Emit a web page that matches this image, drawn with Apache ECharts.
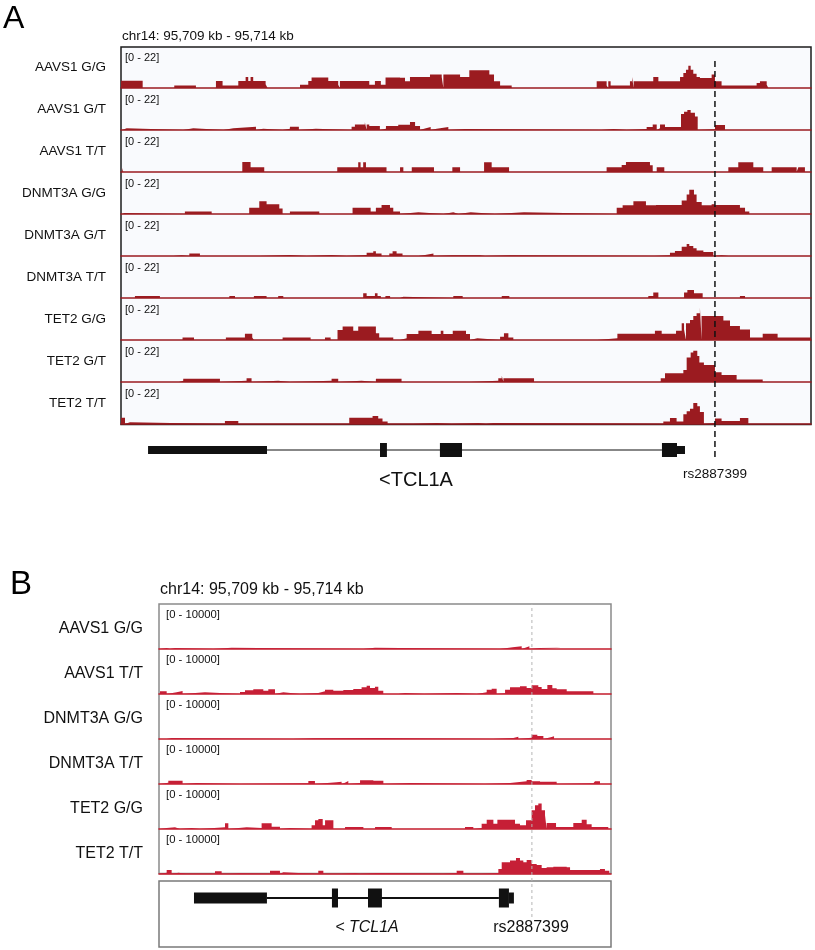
<!DOCTYPE html>
<html>
<head>
<meta charset="utf-8">
<script src="https://cdn.jsdelivr.net/npm/echarts@6/dist/echarts.min.js"></script>
<style>
  html, body { margin: 0; padding: 0; background: #fff; }
  #chart { width: 815px; height: 950px; }
</style>
</head>
<body>
<div id="chart"></div>
<script>
// region / labels
const regionText = 'chr14: 95,709 kb - 95,714 kb';
const regionLen = 5000; // bp shown across each panel
const trackNamesA = ['AAVS1 G/G', 'AAVS1 G/T', 'AAVS1 T/T', 'DNMT3A G/G', 'DNMT3A G/T', 'DNMT3A T/T', 'TET2 G/G', 'TET2 G/T', 'TET2 T/T'];
const trackNamesB = ['AAVS1 G/G', 'AAVS1 T/T', 'DNMT3A G/G', 'DNMT3A T/T', 'TET2 G/G', 'TET2 T/T'];
const rangeA = [0, 22];
const rangeB = [0, 10000];

// coverage segments: [start bp, end bp, value]  (panel A, scale 0-22)
const aAavs1GG = [[0,157,3.9],[386,543,1.3],[688,736,3.8],[736,850,1.3],[850,903,3.8],[903,922,5.9],[922,939,3.8],[939,958,5.9],[958,1048,3.8],[1048,1062,2],[1297,1357,1.8],[1357,1381,3.8],[1381,1502,5.7],[1502,1574,3.8],[1574,1586,1.8],[1586,1799,3.8],[1799,1840,1.8],[1840,1883,3.8],[1883,1917,1.8],[1917,2022,5.7],[2022,2058,5.5],[2058,2094,3.6],[2094,2239,5.9],[2239,2324,7.2],[2324,2336,5.9],[2336,2457,7.2],[2457,2524,5.9],[2524,2669,9.5],[2669,2703,7.2],[2703,2747,3.6],[2747,2831,1.3],[3447,3519,3.6],[3519,3531,1.3],[3531,3548,3.6],[3548,3688,1.3],[3688,3703,3.6],[3703,3715,5.9],[3715,3857,3.6],[3857,3894,5.9],[3894,4051,3.6],[4051,4075,5.9],[4075,4094,8.1],[4094,4111,9.8],[4111,4128,12],[4128,4147,9.8],[4147,4171,7.7],[4171,4195,5.9],[4195,4280,5.4],[4280,4304,7.2],[4304,4352,3.6],[4352,4606,1.3],[4606,4630,2.7],[4630,4679,3.6],[4679,4691,1.8]];
const aAavs1GT = [[9,41,0.9],[451,524,0.9],[741,814,0.9],[814,978,1.8],[978,1031,0.7],[1171,1224,0.7],[1224,1289,1.8],[1289,1412,0.7],[1671,1695,1.8],[1695,1767,2.9],[1767,1780,4.1],[1780,1799,2.9],[1799,1876,2.1],[1876,1920,0.7],[1920,2009,2.1],[2009,2094,2.8],[2094,2131,4.3],[2131,2167,2.1],[2167,2196,0.7],[2196,2244,1.6],[2244,2288,0.7],[2288,2372,1.6],[2372,2493,0.5],[3483,3568,0.5],[3664,3809,0.5],[3809,3853,1.6],[3853,3882,2.9],[3882,3906,0.9],[3906,3942,2.9],[3942,4058,1.6],[4058,4080,8.6],[4080,4104,9.8],[4104,4128,10.7],[4128,4159,9.3],[4159,4179,7.2],[4179,4304,0.4],[4304,4377,2.7],[4377,4510,0.4]];
const aAavs1TT = [[9,17,2.1],[879,939,5.4],[939,1038,2.5],[1567,1719,2.5],[1719,1736,5.2],[1736,1755,2.5],[1755,1775,5.2],[1775,1924,2.5],[2022,2046,2.5],[2107,2268,2.5],[2401,2457,2.5],[2631,2686,5.2],[2686,2812,2.5],[3519,3628,2.5],[3628,3659,3.8],[3659,3833,5.4],[3833,3853,3.6],[3882,3937,2.5],[4401,4473,2.5],[4473,4582,5.2],[4582,4654,2.5],[4715,4896,2.5],[4908,4956,2.5]];
const aDnmt3aGG = [[9,24,0.5],[463,657,1.4],[929,1002,3.4],[1002,1055,6.8],[1055,1147,5.2],[1147,1171,2.9],[1224,1437,1.4],[1678,1809,3.4],[1809,1847,1.4],[1847,1888,3.4],[1888,1949,4.8],[1949,1973,3.4],[1973,2022,1.4],[2022,2155,0.9],[2336,2408,0.9],[2445,2534,0.9],[2710,2920,0.9],[3592,3635,3.4],[3635,3713,4.7],[3713,3804,6.8],[3804,3877,4.7],[3877,4063,4.8],[4063,4099,7.2],[4099,4118,10.4],[4118,4152,13],[4152,4171,10.4],[4171,4208,6.4],[4208,4280,4.7],[4280,4304,5.2],[4304,4485,4.8],[4485,4522,3.4],[4522,4553,1.4]];
const aDnmt3aGT = [[379,439,0.4],[495,572,1.3],[1007,1224,0.5],[1345,1526,0.5],[1635,1780,0.5],[1780,1828,1.8],[1828,1847,2.5],[1847,1888,1.4],[1944,1968,1.4],[1968,1997,2.5],[1997,2040,1.3],[2155,2203,0.5],[2215,2264,1.3],[2264,2396,0.4],[2408,2602,0.4],[2638,2819,0.4],[3869,3978,0.4],[3978,4014,1.8],[4014,4063,2.7],[4063,4099,5],[4099,4118,6.4],[4118,4147,5.4],[4147,4171,4.1],[4171,4220,2.9],[4220,4292,2.1],[4292,4352,0.4],[4401,4461,0.4]];
const aDnmt3aTT = [[101,282,1.1],[785,826,1.1],[963,1055,1.1],[1139,1176,1.1],[1755,1780,2.5],[1780,1840,1.1],[1840,1859,2.5],[1859,1883,1.1],[1916,1950,1.1],[2022,2046,0.7],[2408,2476,1.1],[2759,2814,1.1],[3821,3857,1.1],[3857,3894,2.9],[4080,4104,2.9],[4104,4152,4.3],[4152,4215,2.5],[4485,4522,1.1]];
const aTet2GG = [[446,529,1.3],[760,898,1.3],[898,951,3.4],[951,963,1.3],[1171,1374,1.3],[1478,1519,1.3],[1569,1606,5.4],[1606,1683,7.3],[1683,1719,5],[1719,1847,7.3],[1847,1871,3.6],[1871,1973,1.3],[2022,2070,0.9],[2070,2155,3.2],[2155,2251,5],[2251,2317,3.2],[2317,2336,5],[2336,2404,3.2],[2404,2500,5],[2500,2529,3.2],[2529,2582,0.9],[2747,2775,1.8],[2775,2807,3.6],[2807,2843,1.4],[3452,3597,0.9],[3597,3869,3.4],[3869,3918,5],[3918,4022,3.4],[4022,4063,5],[4063,4080,9],[4080,4094,5.7],[4094,4123,9],[4123,4147,10.7],[4147,4171,12.9],[4171,4195,14.3],[4195,4207,17.4],[4207,4365,12.9],[4365,4413,10.4],[4413,4485,7.5],[4485,4558,5.7],[4558,4650,1.4],[4650,4758,3.4],[4758,5000,1.4]];
const aTet2GT = [[420,451,0.7],[451,717,1.8],[717,910,0.7],[910,946,2],[946,1140,0.7],[1224,1526,0.7],[1526,1574,1.8],[1574,1743,0.7],[1847,2033,1.8],[2524,2734,0.7],[2734,2759,2],[2759,2771,3.4],[2771,2993,2],[3911,3942,2],[3942,4075,4.7],[4075,4099,6.4],[4099,4128,13.1],[4128,4147,15.8],[4147,4176,16.8],[4176,4191,14],[4191,4224,10.4],[4224,4304,9.1],[4304,4352,5.2],[4352,4461,3.8],[4461,4650,1.4]];
const aTet2TT = [[0,29,3.4],[29,65,0.9],[753,850,1.6],[1654,1823,3.4],[1823,1864,4.3],[1864,1895,2.9],[1895,1932,1.4],[2119,2288,0.5],[2396,2590,0.5],[2645,2698,0.5],[3930,3978,1.4],[3978,4026,3.2],[4026,4075,1.4],[4075,4099,5.2],[4099,4123,6.8],[4123,4147,8.2],[4147,4176,11.3],[4176,4195,9.5],[4195,4224,6.4],[4224,4304,0.5],[4304,4352,3],[4352,4485,1.6],[4485,4546,3.2],[4546,4642,0.5]];

// panel B, scale 0-10000
const bAavs1GG = [[11,85,230],[121,177,230],[601,803,300],[2260,2389,300],[3772,3912,380],[3912,4012,600],[4012,4067,380],[4067,4097,600],[4097,4215,230],[4215,4447,300]];
const bAavs1TT = [[11,85,600],[85,195,380],[195,261,690],[261,508,380],[896,951,460],[951,1043,840],[1043,1154,1060],[1154,1209,760],[1209,1283,1060],[1283,1375,380],[1559,1762,230],[1762,1836,600],[1836,1928,990],[1928,2039,760],[2039,2149,910],[2149,2241,1140],[2241,2297,1520],[2297,2334,1900],[2334,2389,1370],[2389,2426,1670],[2426,2481,760],[2648,2721,230],[2932,3293,230],[3514,3625,380],[3625,3680,990],[3680,3735,1220],[3735,3828,150],[3828,3883,990],[3883,3993,1520],[3993,4067,1750],[4067,4122,1370],[4122,4196,1980],[4196,4233,1600],[4233,4296,1140],[4296,4351,2050],[4351,4399,1290],[4399,4510,1060],[4510,4805,600],[4805,4970,150]];
const bDnmt3aGG = [[85,140,230],[1485,1707,150],[1707,2463,230],[3698,3920,230],[3920,3975,530],[3975,4122,300],[4122,4185,990],[4185,4252,690],[4252,4333,380],[4333,4370,600],[4370,4454,230]];
const bDnmt3aTT = [[4,103,300],[103,261,760],[261,416,230],[896,1652,150],[1652,1725,690],[1725,1965,380],[1965,2020,530],[2020,2057,300],[2057,2094,690],[2094,2224,230],[2224,2371,840],[2371,2482,760],[2482,2777,230],[3606,3883,230],[3883,4067,610],[4067,4122,910],[4122,4215,610],[4215,4399,530],[4399,4805,150],[4823,4878,610],[4878,4970,380]];
const bTet2GG = [[11,85,230],[103,177,380],[232,361,230],[453,730,380],[730,767,1290],[767,970,380],[970,1135,230],[1135,1246,1290],[1246,1338,530],[1338,1449,230],[1688,1726,840],[1726,1763,1980],[1763,1811,2280],[1811,1837,840],[1837,1929,1980],[2058,2261,460],[2390,2574,460],[3385,3477,460],[3477,3569,230],[3569,3625,1220],[3625,3699,2130],[3699,3743,1220],[3743,3938,2130],[3938,3993,1220],[3993,4060,840],[4060,4122,1980],[4122,4159,4250],[4159,4196,5400],[4196,4233,5780],[4233,4270,4250],[4270,4288,3120],[4288,4392,1370],[4392,4583,460],[4583,4676,1370],[4676,4731,2130],[4731,4786,1060],[4786,4970,460]];
const bTet2TT = [[3,85,300],[85,140,910],[140,214,300],[214,306,76],[619,693,610],[785,896,150],[1228,1338,760],[1338,1375,380],[1762,1818,760],[2021,2168,230],[2224,2408,230],[3145,3293,230],[3293,3367,760],[3569,3754,230],[3754,3791,1140],[3791,3883,2660],[3883,3949,3040],[3949,3993,3650],[3993,4030,3040],[4030,4067,2660],[4067,4122,3190],[4122,4178,2280],[4178,4233,2050],[4233,4288,1370],[4288,4362,1520],[4362,4510,1670],[4510,4547,1520],[4547,4878,910],[4878,4933,1140],[4933,4981,760]];

// TCL1A gene model: [start, end, coding(1) / utr(0)], intron span, SNP position
const exonsA = [[196,1058,0],[1877,1927,1],[2311,2471,1],[3920,4029,1],[4029,4087,0]];
const intronA = [1058, 3920];
const snpA = 4304;
const exonsB = [[387,1194,0],[1913,1980,1],[2312,2466,1],[3760,3871,1],[3871,3926,0]];
const intronB = [1194, 3760];
const snpB = 4125;
const geneLabelA = '<TCL1A';
const geneLabelB = '< TCL1A';
const snpLabel = 'rs2887399';

const tracksA = [aAavs1GG, aAavs1GT, aAavs1TT, aDnmt3aGG, aDnmt3aGT, aDnmt3aTT, aTet2GG, aTet2GT, aTet2TT];
const tracksB = [bAavs1GG, bAavs1TT, bDnmt3aGG, bDnmt3aTT, bTet2GG, bTet2TT];

const FONT = '"Liberation Sans", Arial, Helvetica, sans-serif';
const colA = '#9b1b20', colB = '#c61f36';

const grid = [], xAxis = [], yAxis = [], series = [], graphic = [];

function addGrid(g, yMax, lineColor) {
  const i = grid.length;
  grid.push(g);
  xAxis.push({
    type: 'value', gridIndex: i, min: 0, max: regionLen, show: !!lineColor,
    axisLine: { show: !!lineColor, onZero: true, lineStyle: { color: lineColor, width: 1.6 } },
    axisTick: { show: false }, axisLabel: { show: false }, splitLine: { show: false }
  });
  yAxis.push({ type: 'value', gridIndex: i, min: 0, max: yMax, show: false });
  return i;
}

// segments -> step outline
function toSteps(segs) {
  const pts = [];
  segs.forEach(([s, e, v]) => { pts.push([s, 0], [s, v], [e, v], [e, 0]); });
  return pts;
}

function text(str, x, y, size, align, extra) {
  graphic.push({
    type: 'text', x, y, silent: true,
    style: Object.assign({ text: str, font: size + 'px ' + FONT, fill: '#111', align: align || 'left', verticalAlign: 'middle' }, extra || {})
  });
}

function geneSeries(gi, exons, intron, thinH, tallH, lineW) {
  series.push({
    type: 'line', xAxisIndex: gi, yAxisIndex: gi, symbol: 'none', silent: true,
    data: [[intron[0], 0.5], [intron[1], 0.5]],
    lineStyle: { color: '#111', width: lineW }
  });
  series.push({
    type: 'custom', xAxisIndex: gi, yAxisIndex: gi, silent: true, data: exons,
    renderItem: (params, api) => {
      const p0 = api.coord([api.value(0), 0.5]);
      const p1 = api.coord([api.value(1), 0.5]);
      const h = api.value(2) ? tallH : thinH;
      return { type: 'rect', shape: { x: p0[0], y: p0[1] - h / 2, width: p1[0] - p0[0], height: h }, style: { fill: '#111' } };
    }
  });
}

// ---------- panel A ----------
const aLeft = 121, aTop = 47, aW = 690, aTrackH = 42;
addGrid({ left: aLeft, top: aTop, width: aW, height: aTrackH * 9 - 0.5, show: true, backgroundColor: '#f9fafd', borderColor: '#1c1c1c', borderWidth: 1.5 }, 1);
tracksA.forEach((segs, k) => {
  const top = aTop + aTrackH * k;
  const gi = addGrid({ left: aLeft, top: top, width: aW, height: aTrackH - 1 }, rangeA[1], colA);
  series.push({
    type: 'line', xAxisIndex: gi, yAxisIndex: gi, data: toSteps(segs), symbol: 'none', silent: true,
    lineStyle: { width: 0, opacity: 0 }, areaStyle: { color: colA, opacity: 1 }
  });
  text(trackNamesA[k], 106, top + 20, 13.5, 'right');
  text('[' + rangeA[0] + ' - ' + rangeA[1] + ']', 125, top + 10.5, 11, 'left');
});
const geneA = addGrid({ left: aLeft, top: 440, width: aW, height: 20 }, 1);
geneSeries(geneA, exonsA, intronA, 8, 14, 1.2);
const snpGridA = addGrid({ left: aLeft, top: 57, width: aW, height: 400 }, 1);
series.push({
  type: 'line', xAxisIndex: snpGridA, yAxisIndex: snpGridA, symbol: 'none', silent: true, z: 5,
  data: [[snpA, 0], [snpA, 1]], lineStyle: { color: '#111', width: 1.5, type: [6, 4] }
});
text('A', 3, 19, 32, 'left', { fill: '#000' });
text(regionText, 122, 36, 13.5, 'left');
text(geneLabelA, 416, 480, 20, 'center');
text(snpLabel, 715, 474, 13.5, 'center');

// ---------- panel B ----------
const bLeft = 159, bTop = 604, bW = 452, bTrackH = 45;
addGrid({ left: bLeft, top: bTop, width: bW, height: bTrackH * 6 - 0.5, show: true, backgroundColor: '#fff', borderColor: '#8a8a8a', borderWidth: 1.5 }, 1);
tracksB.forEach((segs, k) => {
  const top = bTop + bTrackH * k;
  const gi = addGrid({ left: bLeft, top: top + 1, width: bW, height: bTrackH - 1 }, rangeB[1], '#c41c2c');
  series.push({
    type: 'line', xAxisIndex: gi, yAxisIndex: gi, data: toSteps(segs), symbol: 'none', silent: true,
    lineStyle: { width: 0, opacity: 0 }, areaStyle: { color: colB, opacity: 1 }
  });
  text(trackNamesB[k], 143, top + 25, 16, 'right');
  text('[' + rangeB[0] + ' - ' + rangeB[1] + ']', 166, top + 10.5, 11.3, 'left');
});
addGrid({ left: bLeft, top: 881, width: bW, height: 66, show: true, borderColor: '#7a7a7a', borderWidth: 1.5 }, 1);
const geneBInner = addGrid({ left: bLeft, top: 888, width: bW, height: 20 }, 1);
geneSeries(geneBInner, exonsB, intronB, 11, 19, 2);
const snpGridB = addGrid({ left: bLeft, top: bTop, width: bW, height: 313 }, 1);
series.push({
  type: 'line', xAxisIndex: snpGridB, yAxisIndex: snpGridB, symbol: 'none', silent: true, z: 5,
  data: [[snpB, 0], [snpB, 1]], lineStyle: { color: '#b5b5b5', width: 1, type: [3, 3] }
});
text('B', 10, 585, 33, 'left', { fill: '#000' });
text(regionText, 160, 590, 16, 'left');
text(geneLabelB, 367, 928, 16, 'center', { font: 'italic 16px ' + FONT });
text(snpLabel, 531, 928, 16, 'center');

const chart = echarts.init(document.getElementById('chart'), null, { renderer: 'canvas' });
chart.setOption({
  animation: false,
  backgroundColor: '#fff',
  grid, xAxis, yAxis, series, graphic
});
window.addEventListener('resize', chart.resize);
</script>
</body>
</html>
